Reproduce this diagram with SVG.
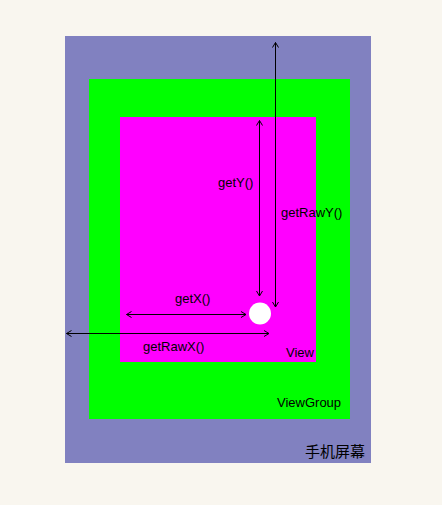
<svg xmlns="http://www.w3.org/2000/svg" width="442" height="505" viewBox="0 0 442 505">
<style>
.t{font-family:"Liberation Sans",Arial,sans-serif;font-size:13px;fill:#000}
.c{font-family:"Noto Sans CJK SC",sans-serif;font-size:15px;fill:#000}
.l{stroke:#000;stroke-width:1;fill:none}
</style>
<defs>
<marker id="a" viewBox="0 0 10 10" refX="9" refY="5" markerWidth="10" markerHeight="10" markerUnits="userSpaceOnUse" orient="auto-start-reverse">
<polyline points="4,2 9,5 4,8" fill="none" stroke="#000" stroke-width="1"/>
</marker>
</defs>
<rect width="442" height="505" fill="#f9f6ef"/>
<g id="screen">
<rect x="65" y="36" width="306" height="427" fill="#8181c0"/>
<text class="c" x="305" y="457">手机屏幕</text>
</g>
<g id="viewgroup">
<rect x="89" y="79" width="261" height="340" fill="#00ff00"/>
<text class="t" x="277" y="407">ViewGroup</text>
</g>
<g id="view">
<rect x="120" y="117" width="196" height="245" fill="#ff00ff"/>
<text class="t" x="286" y="357">View</text>
</g>
<g id="point">
<circle cx="260" cy="313.5" r="11" fill="#fff"/>
</g>
<g id="connectors">
<line class="l" x1="126.5" y1="314.5" x2="246" y2="314.5" marker-start="url(#a)" marker-end="url(#a)"/>
<line class="l" x1="66.5" y1="333.5" x2="269" y2="333.5" marker-start="url(#a)" marker-end="url(#a)"/>
<line class="l" x1="259.5" y1="120.5" x2="259.5" y2="296" marker-start="url(#a)" marker-end="url(#a)"/>
<line class="l" x1="275.5" y1="42.5" x2="275.5" y2="307" marker-start="url(#a)" marker-end="url(#a)"/>
</g>
<g id="labels">
<text class="t" x="175" y="303">getX()</text>
<text class="t" x="143" y="351">getRawX()</text>
<text class="t" x="218" y="187">getY()</text>
<text class="t" x="281" y="217">getRawY()</text>
</g>
</svg>
